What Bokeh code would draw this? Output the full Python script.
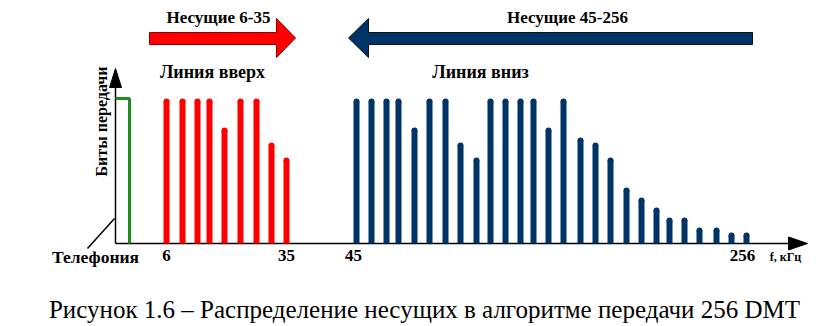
from bokeh.plotting import figure
from bokeh.models import Range1d, ColumnDataSource
from bokeh.core.properties import value
from bokeh.embed import file_html
from bokeh.resources import INLINE

# ---- data (schematic units) ----
up_pos = [166, 182, 197, 209, 224, 240, 256, 271, 286]
up_bits = [145, 145, 145, 145, 116, 145, 145, 101, 86]

down_pos = [356, 371, 386, 398, 414, 429, 445, 460, 476, 490, 505, 520, 533, 548,
            563, 580, 595, 610, 626, 641, 656, 669, 684, 699, 716, 731, 746]
down_bits = [145, 145, 145, 145, 116, 145, 145, 101, 86, 145, 145, 145, 145, 116,
             145, 106, 101, 86, 56, 46, 36, 26, 26, 16, 16, 11, 11]

tick_pos = [166, 286, 353, 742]
tick_labels = ["6", "35", "45", "256"]

phone_pos = 129
phone_bits = 145

RED = "#ff0000"
BLUE = "#003366"
GREEN = "#1e8c1e"
SERIF = value("Times New Roman")

W, H = 838, 326
p = figure(width=W, height=H, x_range=Range1d(0, W), y_range=Range1d(-83, 243),
           output_backend="svg", toolbar_location=None, x_axis_type=None,
           y_axis_type=None, min_border=0, outline_line_color=None)
p.xgrid.visible = False
p.ygrid.visible = False
p.background_fill_color = "white"
p.border_fill_color = "white"

# ---- axes ----
x0 = 115
p.segment(x0=[x0], y0=[0], x1=[792], y1=[0], line_color="black", line_width=1.5)
p.patch(x=[788, 807, 788], y=[6.5, 0, -6.5], fill_color="black", line_color="black")
p.segment(x0=[x0], y0=[0], x1=[x0], y1=[158], line_color="black", line_width=1.5)
p.patch(x=[x0 - 6, x0, x0 + 6], y=[156, 175, 156], fill_color="black", line_color="black")

# ---- telephony ----
p.line(x=[x0, phone_pos, phone_pos], y=[phone_bits, phone_bits, 0],
       line_color=GREEN, line_width=3)
p.segment(x0=[87], y0=[-5], x1=[114], y1=[25], line_color="black", line_width=1.5)

# ---- carriers ----
def bars(pos, bits, color):
    src = ColumnDataSource(dict(x=pos, top=[b - 3 for b in bits]))
    p.vbar(x="x", top="top", bottom=0, width=6, source=src,
           fill_color=color, line_color=None)
    p.scatter(x="x", y="top", size=6, source=src, fill_color=color, line_color=None)

bars(up_pos, up_bits, RED)
bars(down_pos, down_bits, BLUE)

# ---- direction arrows ----
p.patch(x=[149, 276, 276, 295, 276, 276, 149],
        y=[211, 211, 225, 205.5, 186, 199, 199],
        fill_color=RED, line_color="#8b0000", line_width=1)
p.patch(x=[752, 368, 368, 348, 368, 368, 752],
        y=[211, 211, 225, 205.5, 186, 199, 199],
        fill_color=BLUE, line_color="#111111", line_width=1)

# ---- texts ----
def txt(x, y, s, size, bold=True, align="center", angle=0, baseline="alphabetic"):
    p.text(x=[x], y=[y], text=[s], text_font=SERIF, text_font_size=f"{size}px",
           text_font_style="bold" if bold else "normal", text_align=align,
           text_baseline=baseline, angle=angle, text_color="black")

txt(218, 243 - 17, "Несущие 6-35", 17)
txt(567, 243 - 17, "Несущие 45-256", 17)
txt(212, 243 - 71, "Линия вверх", 18)
txt(480, 243 - 71, "Линия вниз", 18)
txt(101, 243 - 121, "Биты передачи", 16, angle=1.5708, baseline="middle")
txt(95, 243 - 256, "Телефония", 17.5)
for xp, lab in zip(tick_pos, tick_labels):
    txt(xp, 243 - 255, lab, 17)
txt(785, 243 - 256, "f, кГц", 12)
txt(424, 243 - 309, "Рисунок 1.6 – Распределение несущих в алгоритме передачи 256 DMT",
    25, bold=False)

open("out.html", "w").write(file_html(p, INLINE))
